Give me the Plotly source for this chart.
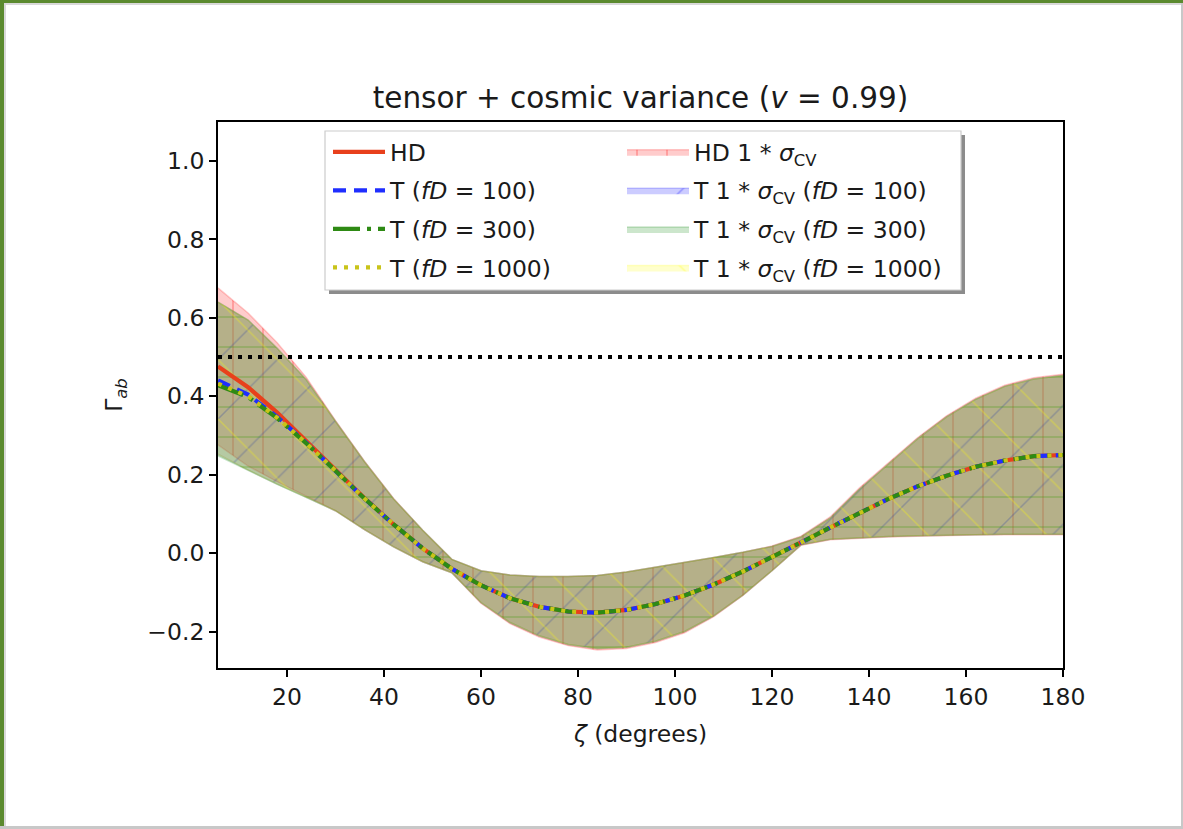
import plotly.graph_objects as go

# ---------------- data ----------------
zeta = [5.8, 12, 18, 24, 30, 36, 42, 48, 54, 60, 66, 72, 78, 84, 90,
        96, 102, 108, 114, 120, 126, 132, 138, 144, 150, 156, 162, 168, 174, 180]

hd = [0.476, 0.423, 0.358, 0.286, 0.212, 0.140, 0.073, 0.012, -0.040, -0.082,
      -0.115, -0.137, -0.149, -0.152, -0.145, -0.130, -0.108, -0.080, -0.047, -0.011,
      0.027, 0.065, 0.102, 0.138, 0.170, 0.197, 0.220, 0.236, 0.247, 0.250]

t100 = [0.440, 0.404, 0.347, 0.281, 0.210, 0.139, 0.073, 0.012, -0.040, -0.082,
        -0.115, -0.137, -0.149, -0.152, -0.145, -0.130, -0.108, -0.080, -0.047, -0.011,
        0.027, 0.065, 0.102, 0.138, 0.170, 0.197, 0.220, 0.236, 0.247, 0.250]

t300 = [0.428, 0.398, 0.344, 0.280, 0.210, 0.139, 0.073, 0.012, -0.040, -0.082,
        -0.115, -0.137, -0.149, -0.152, -0.145, -0.130, -0.108, -0.080, -0.047, -0.011,
        0.027, 0.065, 0.102, 0.138, 0.170, 0.197, 0.220, 0.236, 0.247, 0.250]

t1000 = [0.432, 0.400, 0.345, 0.280, 0.210, 0.139, 0.073, 0.012, -0.040, -0.082,
         -0.115, -0.137, -0.149, -0.152, -0.145, -0.130, -0.108, -0.080, -0.047, -0.011,
         0.027, 0.065, 0.102, 0.138, 0.170, 0.197, 0.220, 0.236, 0.247, 0.250]

hd_upper = [0.676, 0.612, 0.536, 0.448, 0.338, 0.234, 0.139, 0.058, -0.016, -0.045,
            -0.056, -0.060, -0.060, -0.057, -0.048, -0.036, -0.023, -0.011, 0.002, 0.018,
            0.043, 0.092, 0.166, 0.229, 0.294, 0.350, 0.395, 0.428, 0.447, 0.456]
hd_lower = [0.276, 0.222, 0.182, 0.145, 0.108, 0.060, 0.016, -0.022, -0.050, -0.128,
            -0.180, -0.214, -0.236, -0.247, -0.243, -0.228, -0.203, -0.162, -0.108, -0.045,
            0.020, 0.034, 0.038, 0.041, 0.043, 0.045, 0.046, 0.047, 0.047, 0.047]

t100_upper = [0.640, 0.594, 0.522, 0.442, 0.336, 0.233, 0.138, 0.058, -0.016, -0.045,
              -0.056, -0.060, -0.060, -0.057, -0.048, -0.036, -0.023, -0.011, 0.002, 0.017,
              0.041, 0.089, 0.162, 0.226, 0.291, 0.347, 0.392, 0.425, 0.444, 0.453]
t100_lower = [0.252, 0.212, 0.176, 0.142, 0.108, 0.060, 0.016, -0.022, -0.050, -0.126,
              -0.177, -0.211, -0.233, -0.243, -0.240, -0.225, -0.200, -0.160, -0.107, -0.045,
              0.021, 0.035, 0.039, 0.042, 0.044, 0.046, 0.047, 0.048, 0.048, 0.048]

t300_upper = [0.640, 0.594, 0.522, 0.442, 0.336, 0.233, 0.138, 0.058, -0.016, -0.045,
              -0.056, -0.060, -0.060, -0.057, -0.048, -0.036, -0.023, -0.011, 0.002, 0.017,
              0.041, 0.089, 0.162, 0.226, 0.291, 0.347, 0.392, 0.425, 0.444, 0.453]
t300_lower = [0.248, 0.210, 0.175, 0.142, 0.108, 0.060, 0.016, -0.022, -0.050, -0.126,
              -0.177, -0.211, -0.233, -0.243, -0.240, -0.225, -0.200, -0.160, -0.107, -0.045,
              0.021, 0.035, 0.039, 0.042, 0.044, 0.046, 0.047, 0.048, 0.048, 0.048]

t1000_upper = [0.640, 0.594, 0.522, 0.442, 0.336, 0.233, 0.138, 0.058, -0.016, -0.045,
               -0.056, -0.060, -0.060, -0.057, -0.048, -0.036, -0.023, -0.011, 0.002, 0.017,
               0.041, 0.089, 0.162, 0.226, 0.291, 0.347, 0.392, 0.425, 0.444, 0.453]
t1000_lower = [0.252, 0.212, 0.176, 0.142, 0.108, 0.060, 0.016, -0.022, -0.050, -0.126,
               -0.177, -0.211, -0.233, -0.243, -0.240, -0.225, -0.200, -0.160, -0.107, -0.045,
               0.021, 0.035, 0.039, 0.042, 0.044, 0.046, 0.047, 0.048, 0.048, 0.048]

ref_level = 0.5
x_range = [5.8, 180]
y_range = [-0.293, 1.099]
x_ticks = [20, 40, 60, 80, 100, 120, 140, 160, 180]
y_ticks = [-0.2, 0.0, 0.2, 0.4, 0.6, 0.8, 1.0]

# ---------------- layout geometry ----------------
W, H = 1183, 829
ML, MR, MT, MB = 218, 120, 122, 161
PW, PH = W - ML - MR, H - MT - MB


def px_x(px):
    return (px - ML) / PW


def px_y(py):
    return (H - MB - py) / PH


FONT = "DejaVu Sans"
FS = 23.5

fig = go.Figure()

bands = [
    ("HD 1 * <i>σ</i><sub>CV</sub>", hd_lower, hd_upper, (255, 0, 0), "|", 30, 0.05),
    ("T 1 * <i>σ</i><sub>CV</sub> (<i>fD</i> = 100)", t100_lower, t100_upper, (0, 0, 255), "/", 42, 0.036),
    ("T 1 * <i>σ</i><sub>CV</sub> (<i>fD</i> = 300)", t300_lower, t300_upper, (0, 128, 0), "-", 30, 0.05),
    ("T 1 * <i>σ</i><sub>CV</sub> (<i>fD</i> = 1000)", t1000_lower, t1000_upper, (255, 255, 0), "\\", 42, 0.036),
]

for i, (name, lo, up, rgb, shape, size, sol) in enumerate(bands):
    r, g, b = rgb
    face = f"rgba({r},{g},{b},0.2)"
    fig.add_trace(go.Scatter(
        x=zeta, y=lo, mode="lines", line=dict(color=face, width=1.5),
        showlegend=False, hoverinfo="skip"))
    fig.add_trace(go.Scatter(
        x=zeta, y=up, mode="lines", line=dict(color=face, width=1.5),
        fill="tonexty", fillcolor=face,
        fillpattern=dict(shape=shape, size=size, solidity=sol,
                         bgcolor=face, fgcolor=f"rgb({r},{g},{b})", fgopacity=0.3),
        name=name, legend="legend2", legendgroup=f"band{i}", hoverinfo="skip"))

fig.add_trace(go.Scatter(
    x=[x_range[0], x_range[1]], y=[ref_level, ref_level], mode="lines",
    line=dict(color="black", width=4, dash="4px,6px"), showlegend=False, hoverinfo="skip"))

lines = [
    ("HD", hd, "#e8401c", "solid"),
    ("T (<i>fD</i> = 100)", t100, "#1f2eff", "13px,8px"),
    ("T (<i>fD</i> = 300)", t300, "#2e8a14", "27px,7px,4px,7px"),
    ("T (<i>fD</i> = 1000)", t1000, "#c9c41a", "4px,7px"),
]
for i, (name, ys, col, dash) in enumerate(lines):
    fig.add_trace(go.Scatter(
        x=zeta, y=ys, mode="lines", line=dict(color=col, width=4.2, dash=dash),
        name=name, legend="legend", legendgroup=f"line{i}"))

# legend frame (shadow + white box)
bx0, bx1, by0, by1 = px_x(325), px_x(961), px_y(290), px_y(131)
sdx, sdy = 4 / PW, 4 / PH
shapes = [
    dict(type="rect", xref="paper", yref="paper", x0=bx0 + sdx, x1=bx1 + sdx,
         y0=by0 - sdy, y1=by1 - sdy, fillcolor="#8c8c8c", line=dict(width=0), layer="above"),
    dict(type="rect", xref="paper", yref="paper", x0=bx0, x1=bx1, y0=by0, y1=by1,
         fillcolor="white", line=dict(color="#cccccc", width=1.2), layer="above"),
    # page border decoration
    dict(type="rect", xref="paper", yref="paper", x0=px_x(0), x1=px_x(4), y0=px_y(829), y1=px_y(0),
         fillcolor="#5b8a2f", line=dict(width=0), layer="below"),
    dict(type="rect", xref="paper", yref="paper", x0=px_x(0), x1=px_x(1183), y0=px_y(3), y1=px_y(0),
         fillcolor="#5b8a2f", line=dict(width=0), layer="below"),
    dict(type="rect", xref="paper", yref="paper", x0=px_x(4), x1=px_x(6), y0=px_y(829), y1=px_y(3),
         fillcolor="#d9d9d9", line=dict(width=0), layer="below"),
    dict(type="rect", xref="paper", yref="paper", x0=px_x(4), x1=px_x(1183), y0=px_y(5), y1=px_y(3),
         fillcolor="#d9d9d9", line=dict(width=0), layer="below"),
    dict(type="rect", xref="paper", yref="paper", x0=px_x(1181), x1=px_x(1183), y0=px_y(829), y1=px_y(3),
         fillcolor="#c8c8c8", line=dict(width=0), layer="below"),
    dict(type="rect", xref="paper", yref="paper", x0=px_x(0), x1=px_x(1183), y0=px_y(829), y1=px_y(826),
         fillcolor="#c8c8c8", line=dict(width=0), layer="below"),
]

fig.update_layout(
    width=W, height=H,
    margin=dict(l=ML, r=MR, t=MT, b=MB, autoexpand=False),
    paper_bgcolor="white", plot_bgcolor="white",
    font=dict(family=FONT, size=FS, color="#1a1a1a"),
    title=dict(text="tensor + cosmic variance (<i>v</i> = 0.99)", x=px_x(640.5), xref="paper",
               xanchor="center", y=1 - 98 / H, yanchor="middle", font=dict(size=29.5, color="#1a1a1a")),
    shapes=shapes,
    showlegend=True,
    legend=dict(x=px_x(328), y=px_y(130), xanchor="left", yanchor="top",
                bgcolor="rgba(0,0,0,0)", borderwidth=0, font=dict(size=FS),
                tracegroupgap=5, itemwidth=52, traceorder="grouped"),
    legend2=dict(x=px_x(622), y=px_y(130), xanchor="left", yanchor="top",
                 bgcolor="rgba(0,0,0,0)", borderwidth=0, font=dict(size=FS),
                 tracegroupgap=5, itemwidth=62, traceorder="grouped"),
    xaxis=dict(range=x_range, tickvals=x_ticks, ticks="outside", ticklen=7, tickwidth=1.6,
               tickcolor="black", showline=True, linecolor="black", linewidth=1.8, mirror=True,
               showgrid=False, zeroline=False, tickfont=dict(size=FS),
               title=dict(text="<i>ζ</i> (degrees)", standoff=15, font=dict(size=FS))),
    yaxis=dict(range=y_range, tickvals=y_ticks, tickformat=".1f", ticks="outside", ticklen=7,
               tickwidth=1.6, tickcolor="black", showline=True, linecolor="black", linewidth=1.8,
               mirror=True, showgrid=False, zeroline=False, tickfont=dict(size=FS),
               title=dict(text="Γ<sub><i>ab</i></sub>", standoff=18, font=dict(size=FS))),
)

fig.write_html("out.html")
